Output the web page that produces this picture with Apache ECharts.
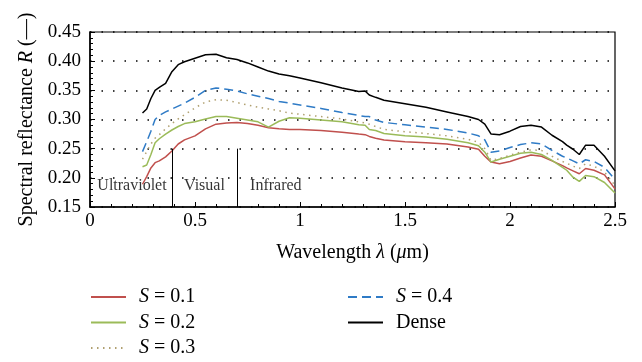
<!DOCTYPE html>
<html>
<head>
<meta charset="utf-8">
<script src="https://cdn.jsdelivr.net/npm/echarts@6/dist/echarts.min.js"></script>
<style>
html, body { margin: 0; padding: 0; background: #fff; }
#chart { width: 642px; height: 362px; }
</style>
</head>
<body>
<div id="chart"></div>
<script>
// wavelength grid (um) shared by all curves
var lambda = [0.25, 0.27, 0.29, 0.31, 0.33, 0.36, 0.39, 0.42, 0.45, 0.5, 0.55, 0.6, 0.65, 0.7, 0.75, 0.8, 0.85, 0.9, 0.95, 1.0,
	1.1, 1.2, 1.28, 1.31, 1.33, 1.36, 1.4, 1.5, 1.6, 1.7, 1.8, 1.85, 1.88, 1.91, 1.95, 2.0, 2.05, 2.1, 2.15, 2.2,
	2.25, 2.27, 2.3, 2.33, 2.36, 2.4, 2.45, 2.5];

var rS01 = [0.189, 0.202, 0.217, 0.226, 0.229, 0.236, 0.246, 0.258, 0.265, 0.272, 0.284, 0.292, 0.294, 0.295, 0.293, 0.290, 0.286, 0.284, 0.283, 0.283,
	0.281, 0.278, 0.275, 0.274, 0.271, 0.268, 0.265, 0.262, 0.260, 0.258, 0.253, 0.249, 0.237, 0.227, 0.224, 0.228, 0.234, 0.239, 0.237, 0.229,
	0.221, 0.217, 0.212, 0.207, 0.216, 0.213, 0.205, 0.181];
var rS02 = [0.219, 0.222, 0.240, 0.260, 0.267, 0.275, 0.282, 0.288, 0.293, 0.296, 0.301, 0.305, 0.305, 0.302, 0.299, 0.296, 0.287, 0.297, 0.303, 0.302,
	0.299, 0.296, 0.291, 0.290, 0.283, 0.281, 0.276, 0.272, 0.270, 0.266, 0.260, 0.255, 0.244, 0.227, 0.232, 0.237, 0.242, 0.244, 0.240, 0.230,
	0.218, 0.213, 0.201, 0.194, 0.204, 0.202, 0.192, 0.174];
var rS03 = [0.232, 0.245, 0.258, 0.268, 0.274, 0.284, 0.293, 0.301, 0.308, 0.320, 0.330, 0.334, 0.333, 0.329, 0.325, 0.321, 0.318, 0.315, 0.311, 0.309,
	0.305, 0.301, 0.296, 0.294, 0.292, 0.288, 0.283, 0.279, 0.276, 0.272, 0.266, 0.261, 0.250, 0.230, 0.233, 0.239, 0.244, 0.248, 0.247, 0.237,
	0.228, 0.225, 0.220, 0.216, 0.224, 0.220, 0.210, 0.187];
var rS04 = [0.245, 0.262, 0.280, 0.300, 0.307, 0.313, 0.318, 0.323, 0.328, 0.338, 0.350, 0.354, 0.352, 0.349, 0.344, 0.340, 0.336, 0.331, 0.328, 0.325,
	0.319, 0.312, 0.307, 0.305, 0.305, 0.299, 0.295, 0.291, 0.287, 0.283, 0.277, 0.272, 0.265, 0.244, 0.246, 0.252, 0.257, 0.260, 0.258, 0.247,
	0.237, 0.234, 0.229, 0.224, 0.231, 0.228, 0.218, 0.197];
var rDense = [0.311, 0.318, 0.336, 0.350, 0.355, 0.362, 0.382, 0.394, 0.399, 0.405, 0.411, 0.412, 0.406, 0.403, 0.397, 0.390, 0.383, 0.378, 0.375, 0.371,
	0.363, 0.354, 0.348, 0.349, 0.342, 0.338, 0.333, 0.327, 0.321, 0.313, 0.305, 0.300, 0.292, 0.275, 0.274, 0.280, 0.288, 0.290, 0.287, 0.273,
	0.262, 0.256, 0.249, 0.240, 0.256, 0.256, 0.237, 0.212];

var seriesNames = ['S = 0.1', 'S = 0.2', 'S = 0.3', 'S = 0.4', 'Dense'];

// band boundaries and band names under the curves
var bandLines = [0.39, 0.70];
var bandLineTop = 0.25;
var bandLabels = [[0.2, 0.186, 'Ultraviolet'], [0.545, 0.186, 'Visual'], [0.885, 0.186, 'Infrared']];

var FONT = '"Liberation Serif", "DejaVu Serif", serif';

function pairs(ys) {
	return lambda.map(function (x, i) { return [x, ys[i]]; });
}

function curve(name, ys, color, type, width) {
	return {
		name: name,
		type: 'line',
		data: pairs(ys),
		symbol: 'none',
		smooth: false,
		lineStyle: { color: color, width: width, type: type },
		itemStyle: { color: color },
		animation: false,
		z: 3
	};
}

function legendName(name) {
	if (name.charAt(0) === 'S') return '{i|S} = ' + name.substring(4);
	return name;
}

var legendText = {
	fontFamily: FONT, fontSize: 20, color: '#000', lineHeight: 20,
	padding: [0, 0, 0, 8],
	rich: { i: { fontFamily: FONT, fontSize: 20, fontStyle: 'italic', color: '#000' } }
};

var chart = echarts.init(document.getElementById('chart'));

option = {
	backgroundColor: '#fff',
	textStyle: { fontFamily: FONT },
	grid: {
		left: 90, right: 27, top: 32, bottom: 155,
		show: true, borderColor: '#000', borderWidth: 1.2, backgroundColor: 'transparent'
	},
	legend: [{
		data: seriesNames.slice(0, 3),
		orient: 'vertical',
		left: 90, top: 287,
		padding: 0,
		itemWidth: 35, itemHeight: 14, itemGap: 5.5,
		itemStyle: { opacity: 0 },
		formatter: legendName,
		textStyle: legendText
	}, {
		data: seriesNames.slice(3),
		orient: 'vertical',
		left: 347, top: 287,
		padding: 0,
		itemWidth: 35, itemHeight: 14, itemGap: 5.5,
		itemStyle: { opacity: 0 },
		formatter: legendName,
		textStyle: legendText
	}],
	xAxis: {
		type: 'value',
		min: 0, max: 2.5, interval: 0.5,
		name: 'Wavelength {i|λ} ({i|μ}m)',
		nameLocation: 'middle',
		nameGap: 36,
		nameTextStyle: {
			fontFamily: FONT, fontSize: 20, color: '#000',
			rich: { i: { fontFamily: FONT, fontSize: 20, fontStyle: 'italic', color: '#000' } }
		},
		axisLine: { lineStyle: { color: '#000', width: 1.5 } },
		axisTick: { inside: true, length: 5, lineStyle: { color: '#000' } },
		minorTick: { show: true, splitNumber: 5, length: 3, lineStyle: { color: '#000' } },
		axisLabel: { fontFamily: FONT, fontSize: 19, color: '#000', margin: 5 },
		splitLine: { show: false }
	},
	yAxis: {
		type: 'value',
		min: 0.15, max: 0.45, interval: 0.05,
		name: 'Spectral reflectance {i|R} (—)',
		nameLocation: 'middle',
		nameGap: 52,
		nameTextStyle: {
			fontFamily: FONT, fontSize: 20, color: '#000',
			rich: { i: { fontFamily: FONT, fontSize: 20, fontStyle: 'italic', color: '#000' } }
		},
		axisLine: { lineStyle: { color: '#000', width: 1.5 } },
		axisTick: { inside: true, length: 5, lineStyle: { color: '#000' } },
		minorTick: { show: true, splitNumber: 5, length: 3, lineStyle: { color: '#000' } },
		axisLabel: {
			fontFamily: FONT, fontSize: 19, color: '#000', margin: 9,
			formatter: function (v) { return v.toFixed(2); }
		},
		splitLine: { show: true, lineStyle: { color: '#000', width: 1.5, type: [1.5, 10] } }
	},
	series: [
		curve('S = 0.1', rS01, '#c0504d', 'solid', 1.5),
		curve('S = 0.2', rS02, '#9bbb59', 'solid', 1.5),
		curve('S = 0.3', rS03, '#b0a070', [1.5, 4.5], 1.5),
		curve('S = 0.4', rS04, '#2f7bc6', [9, 5], 1.5),
		curve('Dense', rDense, '#000000', 'solid', 1.5),
		{
			name: 'bands',
			type: 'scatter',
			data: bandLabels,
			symbolSize: 0,
			silent: true,
			animation: false,
			label: {
				show: true, position: 'inside',
				fontFamily: FONT, fontSize: 16, color: '#000',
				formatter: function (p) { return p.value[2]; }
			},
			markLine: {
				silent: true,
				animation: false,
				symbol: ['none', 'none'],
				label: { show: false },
				lineStyle: { color: '#000', width: 1, type: 'solid' },
				data: bandLines.map(function (x) {
					return [{ coord: [x, 0.15] }, { coord: [x, bandLineTop] }];
				})
			}
		}
	]
};

chart.setOption(option);
</script>
</body>
</html>
